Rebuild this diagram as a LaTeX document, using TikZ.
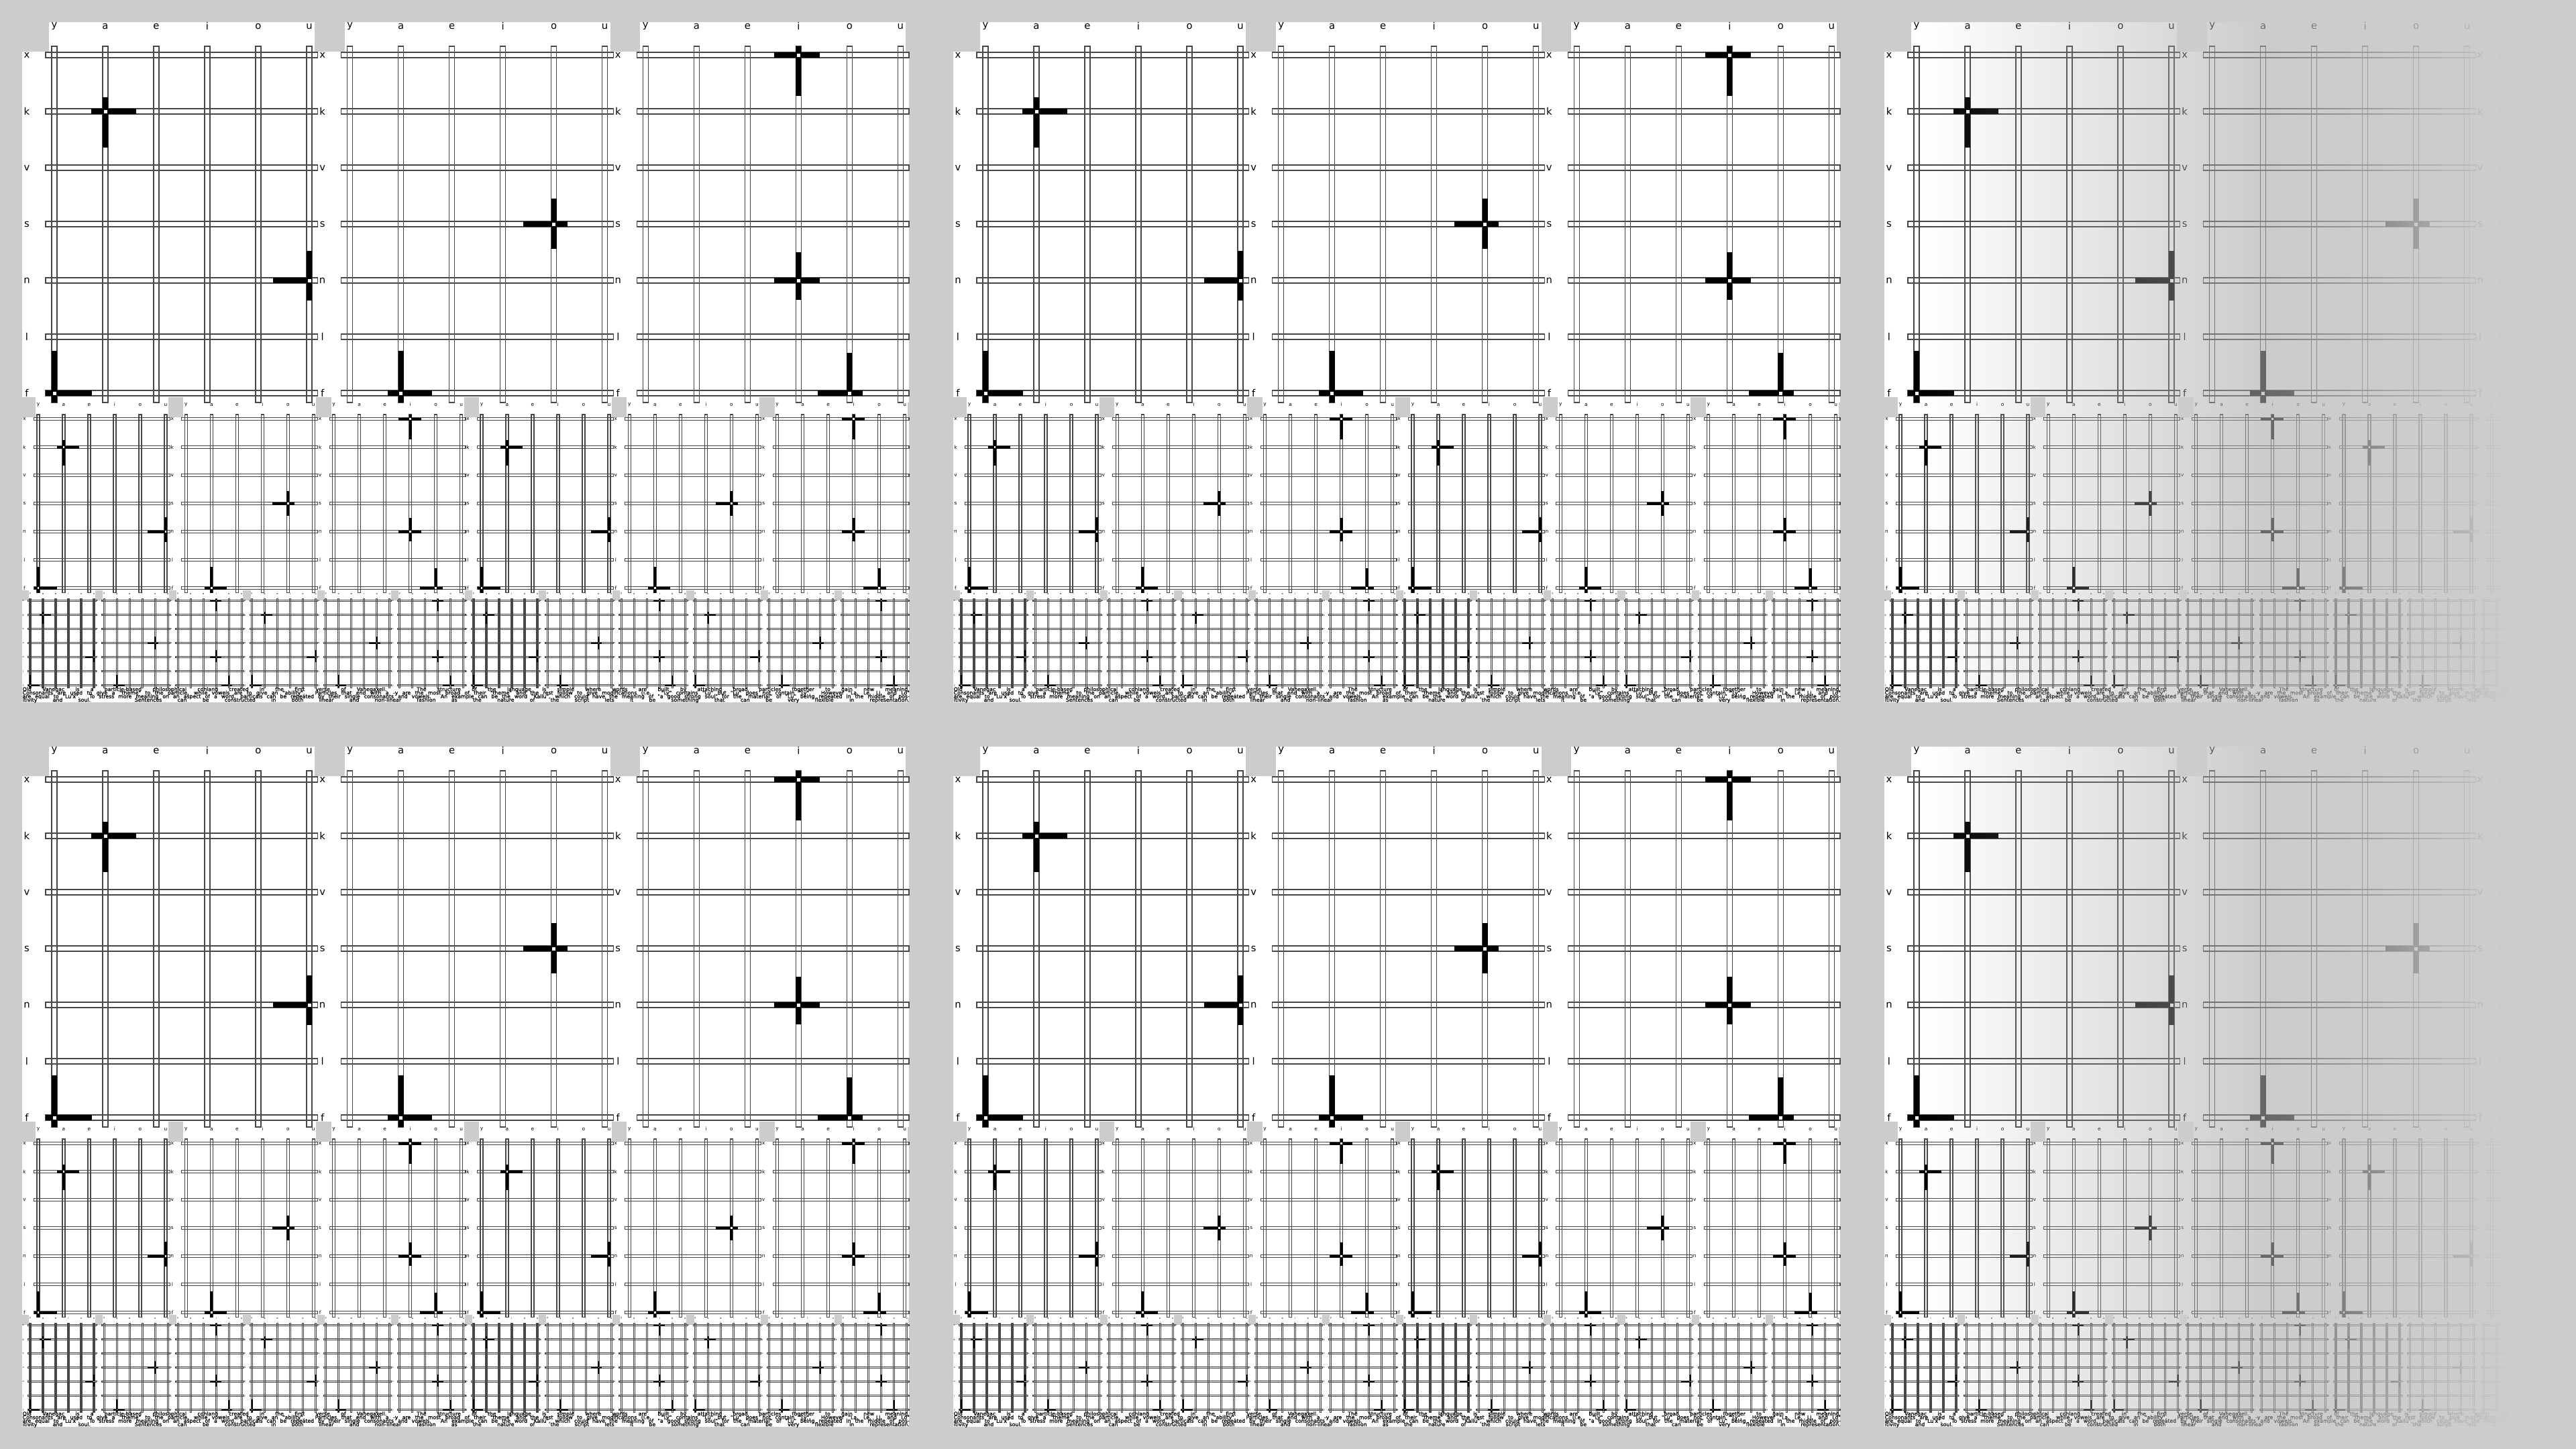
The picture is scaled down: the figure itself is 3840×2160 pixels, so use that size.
\documentclass[tikz,border=0pt]{standalone}
\usepackage{fontspec}
\setmainfont{DejaVu Sans}
\newfontfamily\txtfont[FakeBold=1.2]{DejaVu Sans}
\definecolor{bgc}{HTML}{CCCCCC}
\tikzset{
  rail/.style={draw=black!72, line width=0.34pt},
  lab/.style={inner sep=0pt, font=\fontsize{#1}{#1}\selectfont, text=black},
  txt/.style={inner sep=0pt, anchor=west, font=\txtfont\fontsize{2.2pt}{2.2pt}\selectfont},
}
\newcommand\PW{440.667}
\newcommand\crs[6]{%
  \pgfmathsetmacro\gcx{48+76*#1}%
  \pgfmathsetmacro\gcy{49+84*#2}%
  \fill[black] ({\gcx-#3},{\gcy-4}) rectangle ({\gcx+#4},{\gcy+4});
  \fill[black] ({\gcx-4},{\gcy-#5}) rectangle ({\gcx+4},{\gcy+#6});
  \fill[white] ({\gcx-2.5},{\gcy-2.5}) rectangle ({\gcx+2.5},{\gcy+2.5});
}
\newcommand\gA{\crs{1}{1}{21}{46}{21}{54}\crs{5}{4}{54}{4}{44}{30}\crs{0}{6}{13}{56}{63}{14}}
\newcommand\gB{\crs{4}{3}{46}{20}{38}{37}\crs{1}{6}{20}{46}{63}{14}}
\newcommand\gC{\crs{3}{0}{36}{32}{13}{61}\crs{3}{4}{36}{32}{42}{29}\crs{4}{6}{47}{20}{60}{4}}
\newcommand\pnlbg[4]{%
 \begin{scope}[shift={(#1,#2)},scale=#3]
  \fill[white] (0,44) rectangle (\PW,567);
  \ifnum#4=1
   \fill[bgc] (-4.667,-16) rectangle (40,44);
   \fill[white] (40,-16) rectangle (436,44);
  \else
   \fill[white] (40,0) rectangle (436,44);
  \fi
 \end{scope}}
\newcommand\pnlfg[5]{%
 \begin{scope}[shift={(#1,#2)},scale=#3]
  \foreach \ci in {0,...,5}{\draw[rail] ({44+76*\ci},36) rectangle ({52+76*\ci},567);}
  \foreach \ri in {0,...,6}{\draw[rail] (35,{45+84*\ri}) rectangle (\PW,{53+84*\ri});}
  \foreach \lb [count=\ci from 0] in {y,a,e,i,o,u}{\node[lab=#5] at ({48+76*\ci},6) {\lb};}
  \foreach \lb [count=\ri from 0] in {x,k,v,s,n,l,f}{\node[lab=#5] at (7,{49+84*\ri}) {\lb};}
  \ifcase#4 \gA\or\gB\or\gC\fi
 \end{scope}}
\newcommand\txA{Old Vanegac is a particle-based philosophical conlang created in the first verse of Vanegaxell. The structure of the language is simple where words are built by attaching broad particles together to gain new meaning.}
\newcommand\txB{Consonants are used to give a "theme" to the particle, while vowels are to give an "ability". Particles that end with a -y are the most broad of their "theme" and the rest follow to give modifications (i.e. "Ly" contains "Lu" but "Lu" does not contain "Ly". However "La, Le, Li, and Lo"}
\newcommand\txC{are equal to "Lu'x". To stress more meaning on an aspect of a word, particals can be repeated by their single consonants and vowels. An example can be the word "Kallu", which could have the meaning of "a good strong soul" for the "material" of "Lu" being repeated in the middle of pos-}
\newcommand\txD{itivity and soul. Sentences can be constructed in both linear and non-linear fashion as the nature of the script lets it be something that can be very flexible in representation.}
\newcommand\drawtile[2]{%
 \foreach \k in {0,1,2}{\pgfmathsetmacro\px{#1+440.667*\k}\pnlbg{\px}{#2}{1}{0}}
 \pgfmathsetmacro\pyb{#2+567}
 \foreach \k in {0,...,5}{\pgfmathsetmacro\px{#1+220.333*\k}\pnlbg{\px}{\pyb}{0.5}{1}}
 \pgfmathsetmacro\pyc{#2+850.5}
 \foreach \k in {0,...,11}{\pgfmathsetmacro\px{#1+110.1667*\k}\pnlbg{\px}{\pyc}{0.25}{1}}
 \fill[white] (#1,{#2+992}) rectangle ({#1+1322},{#2+1014});
 \foreach \k in {0,1,2}{\pgfmathsetmacro\px{#1+440.667*\k}\pgfmathtruncatemacro\gi{mod(\k,3)}\pnlfg{\px}{#2}{1}{\gi}{4.2pt}}
 \foreach \k in {0,...,5}{\pgfmathsetmacro\px{#1+220.333*\k}\pgfmathtruncatemacro\gi{mod(\k,3)}\pnlfg{\px}{\pyb}{0.5}{\gi}{2.1pt}}
 \foreach \k in {0,...,11}{\pgfmathsetmacro\px{#1+110.1667*\k}\pgfmathtruncatemacro\gi{mod(\k,3)}\pnlfg{\px}{\pyc}{0.25}{\gi}{1.05pt}}
 \node[txt] at (#1,{#2+995}) {\makebox[132.2mm][s]{\txA}};
 \node[txt] at (#1,{#2+1000.3}) {\makebox[132.2mm][s]{\txB}};
 \node[txt] at (#1,{#2+1005.6}) {\makebox[132.2mm][s]{\txC}};
 \node[txt] at (#1,{#2+1010.9}) {\makebox[132.2mm][s]{\txD}};
}
\begin{document}
\begin{tikzpicture}[x=0.1mm,y=-0.1mm]
\useasboundingbox (0,0) rectangle (3840,2160);
\fill[bgc] (0,0) rectangle (3840,2160);
\clip (0,0) rectangle (3840,2160);
\foreach \ti in {0,1,2}{\foreach \tj in {0,1}{%
  \pgfmathsetmacro\tx{33+1388*\ti}\pgfmathsetmacro\ty{33+1080*\tj}%
  \drawtile{\tx}{\ty}}}
\foreach \i in {1,...,88}{\pgfmathsetmacro\op{1/(89-\i)}%
  \fill[bgc, opacity=\op] ({2870+10*(\i-1)},0) rectangle (3840,2160);}
\end{tikzpicture}
\end{document}
